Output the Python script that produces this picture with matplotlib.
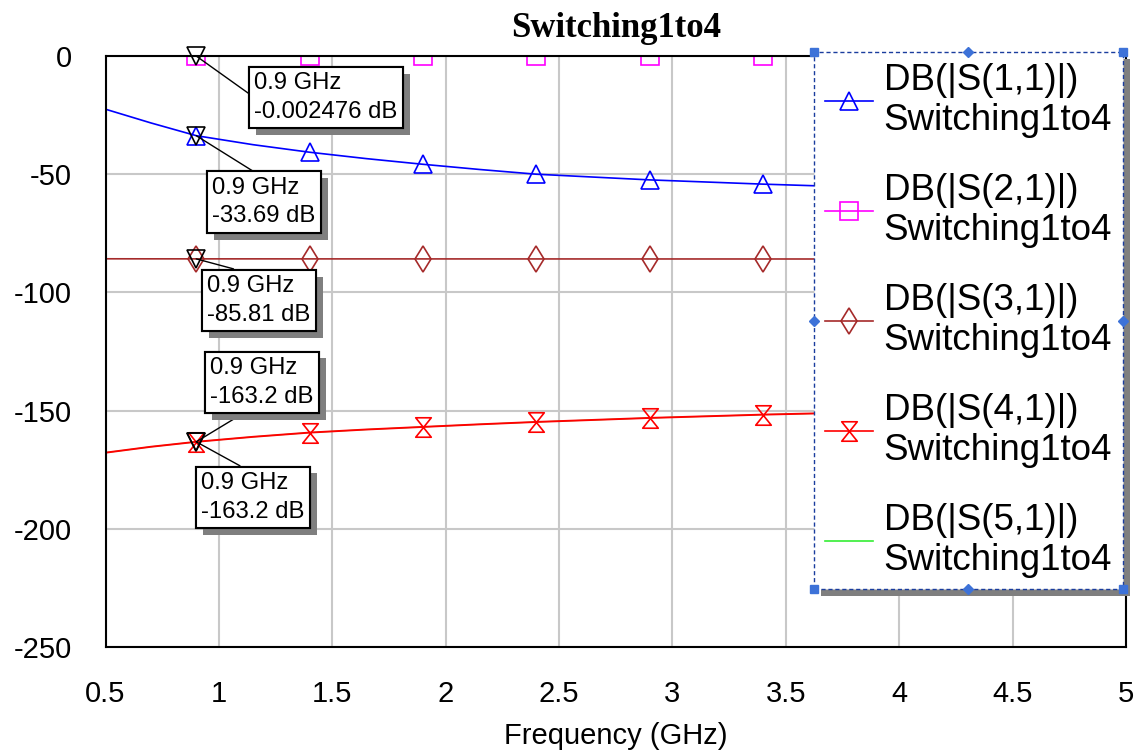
import numpy as np
import matplotlib
matplotlib.use("Agg")
import matplotlib.pyplot as plt
from matplotlib.lines import Line2D
from matplotlib.path import Path
from matplotlib.ticker import FormatStrFormatter
import matplotlib.patheffects as pe

plt.rcParams['font.family'] = ['Liberation Sans', 'DejaVu Sans']
plt.rcParams['axes.unicode_minus'] = False

# data
freq = [0.5, 0.7, 0.9, 1.15, 1.4, 1.65, 1.9, 2.15, 2.4, 2.9, 3.4, 3.9, 4.4, 4.9, 5.0]
s11 = [-22.5, -28.3, -33.69, -37.5, -40.7, -43.4, -45.8, -48.0, -50.0, -52.4, -54.2, -55.7, -56.9, -57.9, -58.1]
s21 = [-0.0015, -0.002, -0.002476, -0.003, -0.0035, -0.004, -0.0045, -0.005, -0.0055, -0.0065, -0.0075, -0.0085, -0.0095, -0.0105, -0.011]
s31 = [-85.78, -85.8, -85.81, -85.81, -85.82, -85.82, -85.83, -85.83, -85.84, -85.85, -85.86, -85.87, -85.88, -85.89, -85.9]
s41 = [-167.8, -165.3, -163.2, -161.1, -159.3, -158.0, -156.9, -155.8, -154.8, -153.1, -151.7, -150.6, -149.6, -148.8, -148.6]
s51 = s41  # hidden under S(4,1), same marker reading -163.2 dB
mark_idx = [2, 4, 6, 8, 9, 10, 11, 12, 13]

names = ["DB(|S(1,1)|)", "DB(|S(2,1)|)", "DB(|S(3,1)|)", "DB(|S(4,1)|)", "DB(|S(5,1)|)"]
doc = "Switching1to4"

marker_f = 0.9
marker_vals = [-0.002476, -33.69, -85.81, -163.2, -163.2]
marker_txt = ["-0.002476", "-33.69", "-85.81", "-163.2", "-163.2"]

# hourglass marker
hg = Path([(-0.8, 1), (0.8, 1), (-0.8, -1), (0.8, -1), (-0.8, 1)],
          [Path.MOVETO, Path.LINETO, Path.LINETO, Path.LINETO, Path.CLOSEPOLY])

fig = plt.figure(figsize=(11.37, 7.51), dpi=100)
ax = fig.add_axes([0.0928, 0.1385, 0.8975, 0.7869])

ax.plot(freq, s51, color='#33ee33', lw=0.8)
ax.plot(freq, s11, color='#0000ff', lw=1.2, marker='^', ms=13, mfc='none', mew=1.2, markevery=mark_idx)
ax.plot(freq, s21, color='#ff00ff', lw=1.2, marker='s', ms=13, mfc='none', mew=1.2, markevery=mark_idx)
ax.plot(freq, s31, color='#a52a2a', lw=1.2, marker='d', ms=13, mfc='none', mew=1.2, markevery=mark_idx)
ax.plot(freq, s41, color='#ff0000', lw=1.4, marker=hg, ms=14, mfc='none', mew=1.2, markevery=mark_idx)

ax.set_xlim(0.5, 5)
ax.set_ylim(-250, 0)
ax.set_xticks(np.arange(0.5, 5.01, 0.5))
ax.set_yticks(np.arange(-250, 1, 50))
ax.xaxis.set_major_formatter(FormatStrFormatter('%g'))
ax.grid(True, color='#c8c8c8', lw=1.5)
ax.set_axisbelow(True)
ax.tick_params(length=0, labelsize=21, pad=24)
for sp in ax.spines.values():
    sp.set_linewidth(1.5)
ax.set_xlabel("Frequency (GHz)", fontsize=21, labelpad=10)
ax.set_title(doc, fontsize=25, fontweight='bold', family='Liberation Serif', pad=14)

# marker annotations
offsets = [(58, -16), (16, -41), (11, -16), (14, 85), (5, -30)]
relpos = [(0, 0.5), (0.48, 1), (0.47, 1), (0.41, 0), (0.48, 1)]
for v, t, off, rp in zip(marker_vals, marker_txt, offsets, relpos):
    ax.plot([marker_f], [v], marker='v', ms=13, mfc='none', mec='black', mew=1.2, clip_on=False, zorder=5)
    a = ax.annotate(f"{marker_f} GHz\n{t} dB", xy=(marker_f, v), xytext=off, textcoords='offset pixels',
                    ha='left', va='top', fontsize=17.2, linespacing=1.4,
                    bbox=dict(boxstyle='square,pad=0.22', fc='white', ec='black', lw=1.5),
                    arrowprops=dict(arrowstyle='-', color='black', lw=1, shrinkA=0, shrinkB=0, relpos=rp),
                    zorder=6)
    a.get_bbox_patch().set_path_effects([pe.withSimplePatchShadow(offset=(5, -5), shadow_rgbFace='#7f7f7f', alpha=1), pe.Normal()])

# legend
handles = [
    Line2D([], [], color='#0000ff', lw=1.2, marker='^', ms=13, mfc='none', mew=1.2),
    Line2D([], [], color='#ff00ff', lw=1.2, marker='s', ms=13, mfc='none', mew=1.2),
    Line2D([], [], color='#a52a2a', lw=1.2, marker='d', ms=13, mfc='none', mew=1.2),
    Line2D([], [], color='#ff0000', lw=1.2, marker=hg, ms=14, mfc='none', mew=1.2),
    Line2D([], [], color='#33ee33', lw=1.2),
]
labels = [n + "\n" + doc for n in names]
leg = ax.legend(handles, labels, loc='upper left', bbox_to_anchor=(0.694, 1.0068), borderaxespad=0,
                fontsize=26.5, fancybox=False, framealpha=1, handlelength=1.3, handletextpad=0.3,
                labelspacing=0.94, borderpad=0.3,
                shadow={'ox': 5, 'oy': -5, 'facecolor': '#7f7f7f', 'edgecolor': 'none',
                        'linestyle': '-', 'alpha': 1})
fr = leg.get_frame()
fr.set_edgecolor('#1a3d9e')
fr.set_linestyle((0, (3, 2)))
fr.set_linewidth(1.0)
for t in leg.get_texts():
    t.set_linespacing(1.2)

fig.canvas.draw()
bb = leg.get_window_extent().transformed(fig.transFigure.inverted())
hx = [bb.x0, (bb.x0 + bb.x1) / 2, bb.x1]
hy = [bb.y0, (bb.y0 + bb.y1) / 2, bb.y1]
for i, x in enumerate(hx):
    for j, y in enumerate(hy):
        if i == 1 and j == 1:
            continue
        corner = (i != 1 and j != 1)
        fig.add_artist(Line2D([x], [y], marker='s' if corner else 'D', ms=6 if corner else 5,
                              color='#3d72d8', transform=fig.transFigure, zorder=10))

fig.savefig("out.png", dpi=100)
